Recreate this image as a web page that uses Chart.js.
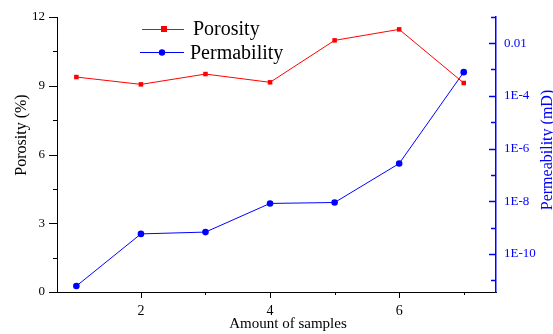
<!DOCTYPE html>
<html>
<head>
<meta charset="utf-8">
<script src="https://cdn.jsdelivr.net/npm/chart.js@4.4.1/dist/chart.umd.min.js"></script>
<style>
html, body { margin: 0; padding: 0; background: #fff; }
#wrap { width: 553px; height: 334px; }
</style>
</head>
<body>
<div id="wrap"><canvas id="myChart"></canvas></div>
<script>
// data
var samples = [1, 2, 3, 4, 5, 6, 7];
var porosity = [9.38, 9.06, 9.51, 9.15, 10.98, 11.46, 9.12];
var permeability = [6.1e-12, 5.8e-10, 6.8e-10, 8.3e-9, 9.0e-9, 2.7e-7, 7.9e-4];

// axis ticks
var xTicks = [2, 3, 4, 5, 6, 7];
var xLabels = [2, 4, 6];
var porTicks = [0, 1.5, 3, 4.5, 6, 7.5, 9, 10.5, 12];
var porLabels = [0, 3, 6, 9, 12];
var permExps = [-11, -10, -9, -8, -7, -6, -5, -4, -3, -2, -1];
var permLabelExps = [-10, -8, -6, -4, -2];
var permLabelText = ["1E-10", "1E-8", "1E-6", "1E-4", "0.01"];

var FONT = "'Liberation Serif', 'Times New Roman', serif";
var RED = '#ff0000', BLUE = '#0000ff';

function has(arr, v) {
    for (var i = 0; i < arr.length; i++) { if (Math.abs(arr[i] - v) < 1e-6) return true; }
    return false;
}
function expOf(v) { return Math.round(Math.log10(v)); }

var axisDeco = {
    id: 'axisDeco',
    afterDraw: function(chart) {
        var ctx = chart.ctx, a = chart.chartArea;
        var sx = chart.scales.x, sy = chart.scales.y, sp = chart.scales.y1;
        ctx.save();
        ctx.lineWidth = 1;
        // bottom ticks, outward
        ctx.strokeStyle = '#000';
        xTicks.forEach(function(v){
            var px = Math.round(sx.getPixelForValue(v)) + 0.5;
            var len = has(xLabels, v) ? 6 : 3;
            ctx.beginPath(); ctx.moveTo(px, a.bottom); ctx.lineTo(px, a.bottom + len); ctx.stroke();
        });
        // left ticks, outward
        porTicks.forEach(function(v){
            var py = Math.round(sy.getPixelForValue(v)) + 0.5;
            var len = has(porLabels, v) ? 8 : 4;
            ctx.beginPath(); ctx.moveTo(a.left, py); ctx.lineTo(a.left - len, py); ctx.stroke();
        });
        // right ticks, inward
        ctx.strokeStyle = BLUE;
        ctx.lineWidth = 1.5;
        permExps.forEach(function(e){
            var py = Math.round(sp.getPixelForValue(Math.pow(10, e))) + 0.5;
            var len = permLabelExps.indexOf(e) >= 0 ? 7 : 5;
            ctx.beginPath(); ctx.moveTo(a.right, py); ctx.lineTo(a.right - len, py); ctx.stroke();
        });

        // axis titles
        ctx.textAlign = 'center';
        ctx.textBaseline = 'middle';
        ctx.fillStyle = '#000';
        ctx.font = '15px ' + FONT;
        ctx.fillText('Amount of samples', 288, 324);
        ctx.font = '16px ' + FONT;
        ctx.save();
        ctx.translate(22, 135); ctx.rotate(-Math.PI / 2);
        ctx.fillText('Porosity (%)', 0, 0);
        ctx.restore();
        ctx.fillStyle = BLUE;
        ctx.save();
        ctx.translate(548, 150); ctx.rotate(-Math.PI / 2);
        ctx.fillText('Permeability (mD)', 0, 0);
        ctx.restore();

        // legend
        ctx.lineWidth = 1;
        ctx.strokeStyle = RED; ctx.fillStyle = RED;
        ctx.beginPath(); ctx.moveTo(142, 29.5); ctx.lineTo(184, 29.5); ctx.stroke();
        ctx.fillRect(161, 26, 6, 6);
        ctx.strokeStyle = BLUE; ctx.fillStyle = BLUE;
        ctx.beginPath(); ctx.moveTo(140, 52.5); ctx.lineTo(184, 52.5); ctx.stroke();
        ctx.beginPath(); ctx.arc(162, 52.5, 3.2, 0, Math.PI * 2); ctx.fill();
        ctx.fillStyle = '#000';
        ctx.textAlign = 'left';
        ctx.font = '20px ' + FONT;
        ctx.fillText('Porosity', 193, 30);
        ctx.fillText('Permability', 190, 54);
        ctx.restore();
    }
};

function noPad(scale) {
    scale.paddingTop = 0;
    scale.paddingBottom = 0;
}

var ctx1 = document.getElementById('myChart');
var myChart = new Chart(ctx1, {
    type: 'line',
    data: {
        datasets: [{
            label: 'Porosity',
            data: samples.map(function(s, i){ return {x: s, y: porosity[i]}; }),
            yAxisID: 'y',
            borderColor: RED,
            backgroundColor: RED,
            borderWidth: 1,
            pointStyle: 'rect',
            pointRadius: 3.2,
            pointBorderWidth: 0,
            tension: 0
        }, {
            label: 'Permability',
            data: samples.map(function(s, i){ return {x: s, y: permeability[i]}; }),
            yAxisID: 'y1',
            borderColor: BLUE,
            backgroundColor: BLUE,
            borderWidth: 1,
            pointStyle: 'circle',
            pointRadius: 3.3,
            pointBorderWidth: 0,
            tension: 0
        }]
    },
    options: {
        responsive: true,
        maintainAspectRatio: false,
        animation: false,
        layout: { padding: { top: 17, left: 0, right: 0, bottom: 0 } },
        plugins: { legend: { display: false }, tooltip: { enabled: false } },
        scales: {
            x: {
                type: 'linear',
                min: 0.7, max: 7.5,
                grid: { display: false, drawTicks: false },
                border: { display: true, color: '#000', width: 1 },
                afterBuildTicks: function(scale){ scale.ticks = xTicks.map(function(v){ return {value: v}; }); },
                afterFit: function(scale){ scale.height = 42; scale.paddingLeft = 0; scale.paddingRight = 0; },
                ticks: {
                    padding: 11,
                    color: '#000',
                    font: { family: FONT, size: 14 },
                    maxRotation: 0,
                    autoSkip: false,
                    callback: function(value){ return has(xLabels, value) ? String(value) : ''; }
                }
            },
            y: {
                type: 'linear',
                position: 'left',
                min: 0, max: 12,
                grid: { display: false, drawTicks: false },
                border: { display: true, color: '#000', width: 1 },
                afterBuildTicks: function(scale){ scale.ticks = porTicks.map(function(v){ return {value: v}; }); },
                afterFit: function(scale){ scale.width = 57; noPad(scale); },
                ticks: {
                    padding: 12,
                    color: '#000',
                    font: { family: FONT, size: 13 },
                    autoSkip: false,
                    callback: function(value){ return has(porLabels, value) ? String(value) : ''; }
                }
            },
            y1: {
                type: 'logarithmic',
                position: 'right',
                min: Math.pow(10, -11.44), max: Math.pow(10, -1.01),
                grid: { display: false, drawTicks: false },
                border: { display: true, color: BLUE, width: 1.5 },
                afterBuildTicks: function(scale){ scale.ticks = permExps.map(function(e){ return {value: Math.pow(10, e)}; }); },
                afterFit: function(scale){ scale.width = 57; noPad(scale); },
                ticks: {
                    padding: 8,
                    color: BLUE,
                    font: { family: FONT, size: 13 },
                    autoSkip: false,
                    callback: function(value){
                        var i = permLabelExps.indexOf(expOf(value));
                        return i >= 0 ? permLabelText[i] : '';
                    }
                }
            }
        }
    },
    plugins: [axisDeco]
});
</script>
</body>
</html>
